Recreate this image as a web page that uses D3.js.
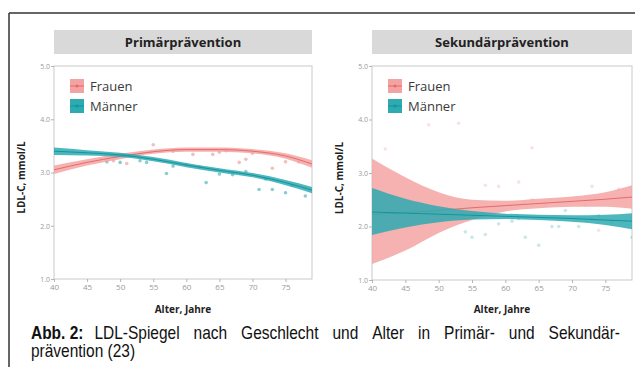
<!DOCTYPE html>
<html><head><meta charset="utf-8">
<script src="https://cdn.jsdelivr.net/npm/d3@7"></script>
<style>
html,body{margin:0;padding:0;background:#fff;}
svg{display:block;}
</style></head>
<body>
<svg id="chart" width="635" height="367"></svg>
<script>
// ---------- DATA ----------
const panelTitles = ["Primärprävention", "Sekundärprävention"];
const seriesNames = ["Frauen", "Männer"];
const yTicks = [1.0, 2.0, 3.0, 4.0, 5.0];
const xTicks = [40, 45, 50, 55, 60, 65, 70, 75];
const fitAges = [40, 45, 50, 55, 60, 65, 70, 75, 79];

// Primärprävention fitted curves
const primFrauenFit   = [3.05, 3.19, 3.30, 3.39, 3.43, 3.43, 3.40, 3.31, 3.16];
const primFrauenLow   = [2.97, 3.13, 3.25, 3.35, 3.39, 3.39, 3.36, 3.26, 3.09];
const primFrauenHigh  = [3.13, 3.25, 3.35, 3.43, 3.47, 3.47, 3.44, 3.36, 3.23];
const primMaennerFit  = [3.40, 3.37, 3.33, 3.25, 3.14, 3.04, 2.95, 2.81, 2.67];
const primMaennerLow  = [3.33, 3.32, 3.29, 3.21, 3.10, 3.00, 2.91, 2.76, 2.61];
const primMaennerHigh = [3.47, 3.42, 3.37, 3.29, 3.18, 3.08, 2.99, 2.86, 2.73];

// Sekundärprävention fitted lines
const sekFrauenFit   = [2.22, 2.26, 2.30, 2.35, 2.39, 2.43, 2.47, 2.51, 2.55];
const sekFrauenLow   = [1.30, 1.55, 1.88, 2.12, 2.28, 2.34, 2.37, 2.37, 2.33];
const sekFrauenHigh  = [3.27, 2.92, 2.64, 2.50, 2.48, 2.52, 2.56, 2.64, 2.77];
const sekMaennerFit  = [2.27, 2.25, 2.23, 2.21, 2.19, 2.17, 2.15, 2.12, 2.10];
const sekMaennerLow  = [1.84, 1.98, 2.08, 2.13, 2.14, 2.12, 2.09, 2.03, 1.95];
const sekMaennerHigh = [2.72, 2.52, 2.38, 2.29, 2.24, 2.22, 2.21, 2.22, 2.25];

// observed means (age, LDL-C)
const primFrauenPts = [[49,3.22],[51,3.17],[55,3.52],[58,3.40],[61,3.34],[64,3.34],[65,3.38],[66,3.41],[68,3.19],[69,3.25],[70,3.36],[73,3.08],[75,3.20],[77,3.20]];
const primMaennerPts = [[48,3.20],[50,3.19],[53,3.22],[54,3.19],[57,2.98],[58,3.12],[60,3.15],[62,3.10],[63,2.81],[65,2.97],[67,2.96],[69,3.02],[71,2.68],[72,2.88],[73,2.68],[75,2.62],[76,2.76],[78,2.56]];
const sekFrauenPts = [[42,3.45],[44,2.20],[48.5,3.90],[53,3.93],[57,2.77],[59,2.75],[62,2.83],[64,3.47],[64,2.50],[66,2.40],[72,2.40],[73,2.75],[74,1.93],[77,2.70]];
const sekMaennerPts = [[54,1.90],[55,1.80],[57,1.85],[59,2.05],[61,2.10],[62,2.15],[63,1.80],[65,1.65],[67,2.00],[68,2.00],[69,2.30],[71,2.00],[73,2.15],[74,2.20],[76,2.10],[79,1.80]];

// ---------- BUILD ----------
const colors = {
  Frauen: {band: "#f4a3a3", line: "#e56b6b", pt: "#e88a8a"},
  "Männer": {band: "#2eaab1", line: "#12959c", pt: "#2aa4ab"}
};
const zip = (f, l, h) => fitAges.map((a, i) => ({age: a, fit: f[i], lo: l[i], hi: h[i]}));
const panels = [
  {title: panelTitles[0], x0: 54, x1: 312, y0: 66, y1: 279, bandOpacity: 0.85, ptOpacity: 0.55,
   series: [
     {name: "Frauen", fit: zip(primFrauenFit, primFrauenLow, primFrauenHigh), pts: primFrauenPts},
     {name: "Männer", fit: zip(primMaennerFit, primMaennerLow, primMaennerHigh), pts: primMaennerPts}
   ]},
  {title: panelTitles[1], x0: 372, x1: 632, y0: 66, y1: 280, bandOpacity: 0.85, ptOpacity: 0.25,
   series: [
     {name: "Frauen", fit: zip(sekFrauenFit, sekFrauenLow, sekFrauenHigh), pts: sekFrauenPts},
     {name: "Männer", fit: zip(sekMaennerFit, sekMaennerLow, sekMaennerHigh), pts: sekMaennerPts}
   ]}
];

const svg = d3.select("#chart");
const uiFont = "'Open Sans', 'Noto Sans', sans-serif";

// outer frame
svg.append("line").attr("x1", 9).attr("x2", 635).attr("y1", 13).attr("y2", 13)
  .attr("stroke", "#333").attr("stroke-width", 1.5);
svg.append("line").attr("x1", 9).attr("x2", 9).attr("y1", 13).attr("y2", 367)
  .attr("stroke", "#333").attr("stroke-width", 1.5);

panels.forEach(p => {
  const g = svg.append("g");
  const x = d3.scaleLinear().domain([40, 79]).range([p.x0, p.x1]);
  const y = d3.scaleLinear().domain([1, 5]).range([p.y1, p.y0]);

  // header strip
  g.append("rect").attr("x", p.x0).attr("y", 30).attr("width", p.x1 - p.x0).attr("height", 24)
    .attr("fill", "#d9d9d9");
  g.append("text").attr("x", (p.x0 + p.x1) / 2).attr("y", 47).attr("text-anchor", "middle")
    .attr("font-family", uiFont).attr("font-weight", 700).attr("font-size", 13)
    .attr("fill", "#222").text(p.title);

  // panel box
  g.append("rect").attr("x", p.x0).attr("y", p.y0).attr("width", p.x1 - p.x0).attr("height", p.y1 - p.y0)
    .attr("fill", "#fff").attr("stroke", "#c9c9c9").attr("stroke-width", 1);

  // axes
  const yAxis = d3.axisLeft(y).tickValues(yTicks).tickFormat(d3.format(".1f")).tickSize(3).tickPadding(1);
  const ya = g.append("g").attr("transform", `translate(${p.x0},0)`).call(yAxis);
  const xAxis = d3.axisBottom(x).tickValues(xTicks).tickSize(3).tickPadding(2);
  const xa = g.append("g").attr("transform", `translate(0,${p.y1})`).call(xAxis);
  [ya, xa].forEach(a => {
    a.select(".domain").remove();
    a.selectAll("line").attr("stroke", "#b5b5b5");
    a.selectAll("text").attr("fill", "#9a9a9a").attr("font-family", uiFont).attr("font-size", 8);
  });
  ya.selectAll("text").attr("font-size", 7);

  // clip
  const cid = "clip" + p.x0;
  svg.append("clipPath").attr("id", cid).append("rect")
    .attr("x", p.x0).attr("y", p.y0).attr("width", p.x1 - p.x0).attr("height", p.y1 - p.y0);
  const plot = g.append("g").attr("clip-path", `url(#${cid})`);

  // points
  p.series.forEach(s => {
    plot.selectAll(null).data(s.pts).enter().append("circle")
      .attr("cx", d => x(d[0])).attr("cy", d => y(d[1])).attr("r", 1.8)
      .attr("fill", colors[s.name].pt).attr("opacity", p.ptOpacity);
  });
  // bands + lines
  p.series.forEach(s => {
    const area = d3.area().curve(d3.curveMonotoneX)
      .x(d => x(d.age)).y0(d => y(d.lo)).y1(d => y(d.hi));
    plot.append("path").datum(s.fit).attr("d", area)
      .attr("fill", colors[s.name].band).attr("opacity", p.bandOpacity);
    const line = d3.line().curve(d3.curveMonotoneX).x(d => x(d.age)).y(d => y(d.fit));
    plot.append("path").datum(s.fit).attr("d", line)
      .attr("fill", "none").attr("stroke", colors[s.name].line).attr("stroke-width", 1);
  });

  // legend
  seriesNames.forEach((n, i) => {
    const ly = 79 + i * 20;
    const kx = p.x0 + 16;
    g.append("rect").attr("x", kx).attr("y", ly).attr("width", 14).attr("height", 14)
      .attr("fill", colors[n].band);
    g.append("line").attr("x1", kx).attr("x2", kx + 14).attr("y1", ly + 7).attr("y2", ly + 7)
      .attr("stroke", colors[n].line).attr("stroke-width", 1);
    g.append("circle").attr("cx", kx + 7).attr("cy", ly + 7).attr("r", 1.5).attr("fill", colors[n].line);
    g.append("text").attr("x", kx + 20).attr("y", ly + 12)
      .attr("font-family", uiFont).attr("font-size", 13).attr("fill", "#3a3a3a").text(n);
  });

  // axis titles
  g.append("text").attr("transform", `translate(${p.x0 - 29},${(p.y0 + p.y1) / 2 + 5}) rotate(-90)`)
    .attr("text-anchor", "middle").attr("font-family", uiFont).attr("font-weight", 700)
    .attr("font-size", 10).attr("fill", "#222").text("LDL-C, mmol/L");
  g.append("text").attr("x", (p.x0 + p.x1) / 2).attr("y", 313).attr("text-anchor", "middle")
    .attr("font-family", uiFont).attr("font-weight", 700).attr("font-size", 10)
    .attr("fill", "#222").text("Alter, Jahre");
});

// caption: one condensed text per line, first line justified with tspans
const capFont = "'Liberation Sans', Arial, sans-serif";
const capScale = 0.88;
const capLine1 = [["Abb. 2:", 700], ["LDL-Spiegel", 400], ["nach", 400], ["Geschlecht", 400],
  ["und", 400], ["Alter", 400], ["in", 400], ["Primär-", 400], ["und", 400], ["Sekundär-", 400]];
const capLine2 = "prävention (23)";
const capX0 = 31, capX1 = 620;
const fixedGaps = [11]; // gap after "Abb. 2:" (screen px)
const cap = svg.append("g").attr("transform", `scale(${capScale},1)`)
  .attr("font-family", capFont).attr("font-size", 17.6).attr("fill", "#111");
// measure words
const widths = capLine1.map(([w, fw]) => {
  const t = cap.append("text").attr("font-weight", fw).text(w);
  const len = t.node().getComputedTextLength();
  t.remove();
  return len;
});
const total = d3.sum(widths);
const nFlex = capLine1.length - 1 - fixedGaps.length;
const gap = ((capX1 - capX0) / capScale - total - d3.sum(fixedGaps) / capScale) / nFlex;
const line1 = cap.append("text").attr("y", 339);
let cx = capX0 / capScale;
capLine1.forEach(([w, fw], i) => {
  line1.append("tspan").attr("x", cx).attr("font-weight", fw).text(w);
  cx += widths[i] + (i < fixedGaps.length ? fixedGaps[i] / capScale : gap);
});
cap.append("text").attr("x", capX0 / capScale).attr("y", 357).text(capLine2);
</script>
</body></html>
